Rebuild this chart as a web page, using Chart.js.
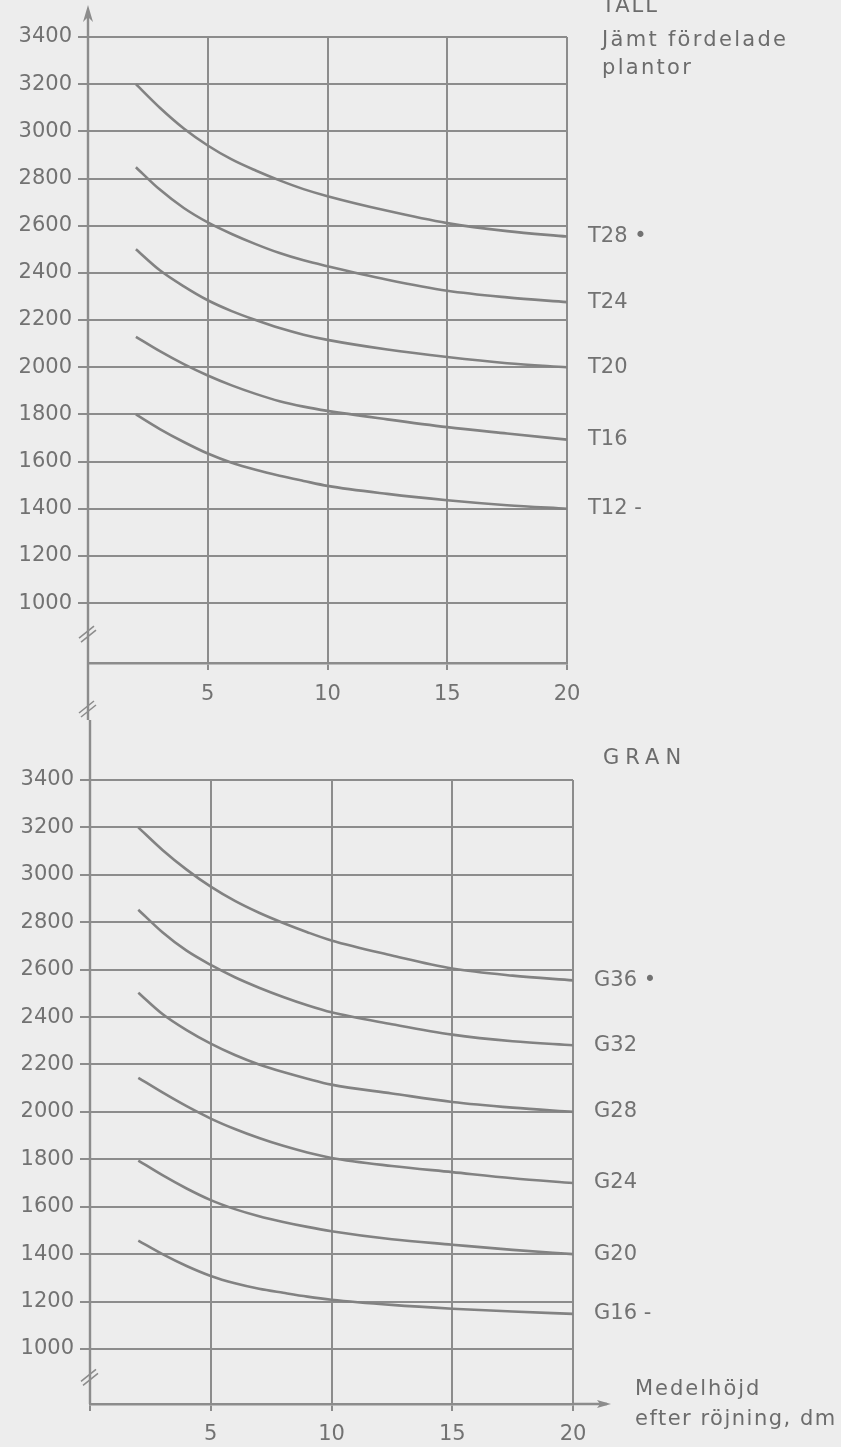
<!DOCTYPE html>
<html>
<head>
<meta charset="utf-8">
<script src="https://cdn.jsdelivr.net/npm/chart.js@4/dist/chart.umd.min.js"></script>
<style>
  html, body { margin: 0; padding: 0; background: #ededed; }
  body { width: 841px; height: 1447px; position: relative; overflow: hidden; font-family: "DejaVu Sans", sans-serif; }
  canvas { position: absolute; left: 0; }
  #cTop { top: 0; }
  #cBot { top: 720px; }
  .txt { position: absolute; color: #6c6c6c; font-size: 21px; line-height: 21px; white-space: nowrap; letter-spacing: 2.3px; }
</style>
</head>
<body>
<canvas id="cTop" width="841" height="720"></canvas>
<canvas id="cBot" width="841" height="727"></canvas>
<div class="txt" style="left:602px; top:-5px; letter-spacing:2px;">TALL</div>
<div class="txt" style="left:602px; top:29px;">Jämt fördelade</div>
<div class="txt" style="left:602px; top:57px;">plantor</div>
<div class="txt" style="left:603px; top:747px; letter-spacing:6px;">GRAN</div>
<div class="txt" style="left:635px; top:1378px; letter-spacing:2px;">Medelhöjd</div>
<div class="txt" style="left:635px; top:1408px; letter-spacing:1.5px;">efter röjning, dm</div>
<script>
// ---- data ----
const xTicks = [0, 5, 10, 15, 20];
const yTicks = [1000, 1200, 1400, 1600, 1800, 2000, 2200, 2400, 2600, 2800, 3000, 3200, 3400];
const xPoints = [2, 3, 4, 5, 6, 7, 8, 9, 10, 12.5, 15, 17.5, 20];

const tallLabels = ['T28 •', 'T24', 'T20', 'T16', 'T12 -'];
const tallT28 = [3200, 3100, 3012, 2940, 2881, 2834, 2792, 2755, 2725, 2663, 2611, 2577, 2554];
const tallT24 = [2848, 2753, 2675, 2614, 2565, 2522, 2484, 2453, 2428, 2371, 2324, 2296, 2276];
const tallT20 = [2500, 2411, 2343, 2284, 2238, 2200, 2166, 2138, 2116, 2075, 2043, 2017, 2000];
const tallT16 = [2129, 2068, 2013, 1965, 1923, 1887, 1856, 1833, 1815, 1779, 1746, 1719, 1693];
const tallT12 = [1800, 1738, 1683, 1634, 1595, 1565, 1540, 1518, 1497, 1463, 1436, 1415, 1400];

const granLabels = ['G36 •', 'G32', 'G28', 'G24', 'G20', 'G16 -'];
const granG36 = [3200, 3105, 3022, 2950, 2890, 2840, 2797, 2758, 2723, 2660, 2605, 2575, 2555];
const granG32 = [2853, 2758, 2680, 2620, 2568, 2524, 2485, 2450, 2420, 2370, 2326, 2298, 2281];
const granG28 = [2503, 2413, 2345, 2288, 2240, 2200, 2168, 2140, 2115, 2078, 2042, 2018, 2000];
const granG24 = [2144, 2082, 2024, 1972, 1928, 1890, 1857, 1829, 1806, 1772, 1746, 1720, 1700];
const granG20 = [1795, 1733, 1677, 1628, 1590, 1560, 1536, 1515, 1497, 1463, 1440, 1418, 1400];
const granG16 = [1457, 1400, 1350, 1308, 1277, 1254, 1237, 1221, 1208, 1186, 1170, 1158, 1148];

// ---- styling ----
const LINE = '#828282';
const GRID = '#8c8c8c';
const TEXT = '#727272';
const FONT = "'DejaVu Sans', sans-serif";
const FSIZE = 21;

function makeDatasets(labels, series) {
  return series.map((vals, i) => ({
    label: labels[i],
    data: vals.map((v, j) => ({ x: xPoints[j], y: v })),
    borderColor: LINE,
    borderWidth: 2.6,
    pointRadius: 0,
    fill: false,
    cubicInterpolationMode: 'monotone'
  }));
}

const endLabels = {
  id: 'endLabels',
  afterDatasetsDraw(chart) {
    const ctx = chart.ctx;
    ctx.save();
    ctx.font = FSIZE + 'px ' + FONT;
    ctx.fillStyle = TEXT;
    ctx.textBaseline = 'middle';
    ctx.textAlign = 'left';
    chart.data.datasets.forEach(ds => {
      const last = ds.data[ds.data.length - 1];
      const y = chart.scales.y.getPixelForValue(last.y);
      ctx.fillText(ds.label, chart.chartArea.right + 21, y);
    });
    ctx.restore();
  }
};

function breakMark(ctx, x, y) {
  ctx.beginPath();
  ctx.moveTo(x - 9, y + 5); ctx.lineTo(x + 6, y - 7);
  ctx.moveTo(x - 7, y + 9); ctx.lineTo(x + 8, y - 3);
  ctx.stroke();
}

function axisPlugin(isTop) {
  return {
    id: 'axisDeco' + (isTop ? 'T' : 'B'),
    afterDraw(chart) {
      const ctx = chart.ctx;
      const a = chart.chartArea;
      const ys = chart.scales.y;
      ctx.save();
      ctx.strokeStyle = GRID;
      ctx.fillStyle = GRID;
      ctx.lineWidth = 2.4;
      ctx.beginPath();
      if (isTop) {
        ctx.moveTo(a.left, 12);
        ctx.lineTo(a.left, chart.height);
      } else {
        ctx.moveTo(a.left, 0);
        ctx.lineTo(a.left, a.bottom);
      }
      ctx.stroke();
      if (isTop) {
        ctx.beginPath();
        ctx.moveTo(a.left, 5);
        ctx.lineTo(a.left - 5, 22);
        ctx.lineTo(a.left, 17);
        ctx.lineTo(a.left + 5, 22);
        ctx.closePath();
        ctx.fill();
      } else {
        ctx.beginPath();
        ctx.moveTo(a.right, a.bottom);
        ctx.lineTo(a.right + 34, a.bottom);
        ctx.stroke();
        ctx.beginPath();
        ctx.moveTo(a.right + 38, a.bottom);
        ctx.lineTo(a.right + 24, a.bottom - 4);
        ctx.lineTo(a.right + 27, a.bottom);
        ctx.lineTo(a.right + 24, a.bottom + 4);
        ctx.closePath();
        ctx.fill();
      }
      ctx.lineWidth = 1.6;
      const y1000 = ys.getPixelForValue(yTicks[0]);
      breakMark(ctx, a.left, (y1000 + a.bottom) / 2);
      if (isTop) breakMark(ctx, a.left, a.bottom + 45);
      ctx.restore();
    }
  };
}

function makeChart(id, labels, series, opt) {
  return new Chart(document.getElementById(id), {
    type: 'line',
    data: { datasets: makeDatasets(labels, series) },
    options: {
      responsive: false,
      animation: false,
      layout: { padding: { left: 0, right: opt.padRight, top: opt.padTop, bottom: 0 } },
      plugins: { legend: { display: false }, tooltip: { enabled: false } },
      scales: {
        x: {
          type: 'linear',
          min: 0, max: 20,
          afterBuildTicks: s => { s.ticks = xTicks.map(v => ({ value: v })); },
          afterFit: s => { s.height = opt.xHeight; },
          ticks: {
            callback: v => (v === 0 ? '' : String(v)),
            color: TEXT,
            font: { family: FONT, size: FSIZE },
            padding: opt.xPad,
            maxRotation: 0,
            autoSkip: false
          },
          grid: { color: GRID, lineWidth: 2, tickLength: 7, tickColor: GRID },
          border: { display: true, color: GRID, width: 2.4 }
        },
        y: {
          type: 'linear',
          min: opt.yMin, max: 3400,
          afterBuildTicks: s => { s.ticks = yTicks.map(v => ({ value: v })); },
          afterFit: s => { s.width = opt.yWidth; },
          ticks: {
            callback: v => String(v),
            color: TEXT,
            font: { family: FONT, size: FSIZE },
            padding: 6,
            autoSkip: false
          },
          grid: { color: GRID, lineWidth: 2, tickLength: 10, tickColor: GRID },
          border: { display: false }
        }
      }
    },
    plugins: [endLabels, axisPlugin(opt.isTop)]
  });
}

makeChart('cTop', tallLabels, [tallT28, tallT24, tallT20, tallT16, tallT12],
  { isTop: true, padRight: 274, padTop: 37, xHeight: 57, xPad: 12, yMin: 746, yWidth: 88 });
makeChart('cBot', granLabels, [granG36, granG32, granG28, granG24, granG20, granG16],
  { isTop: false, padRight: 268, padTop: 60, xHeight: 43, xPad: 11, yMin: 768, yWidth: 90 });
</script>
</body>
</html>
